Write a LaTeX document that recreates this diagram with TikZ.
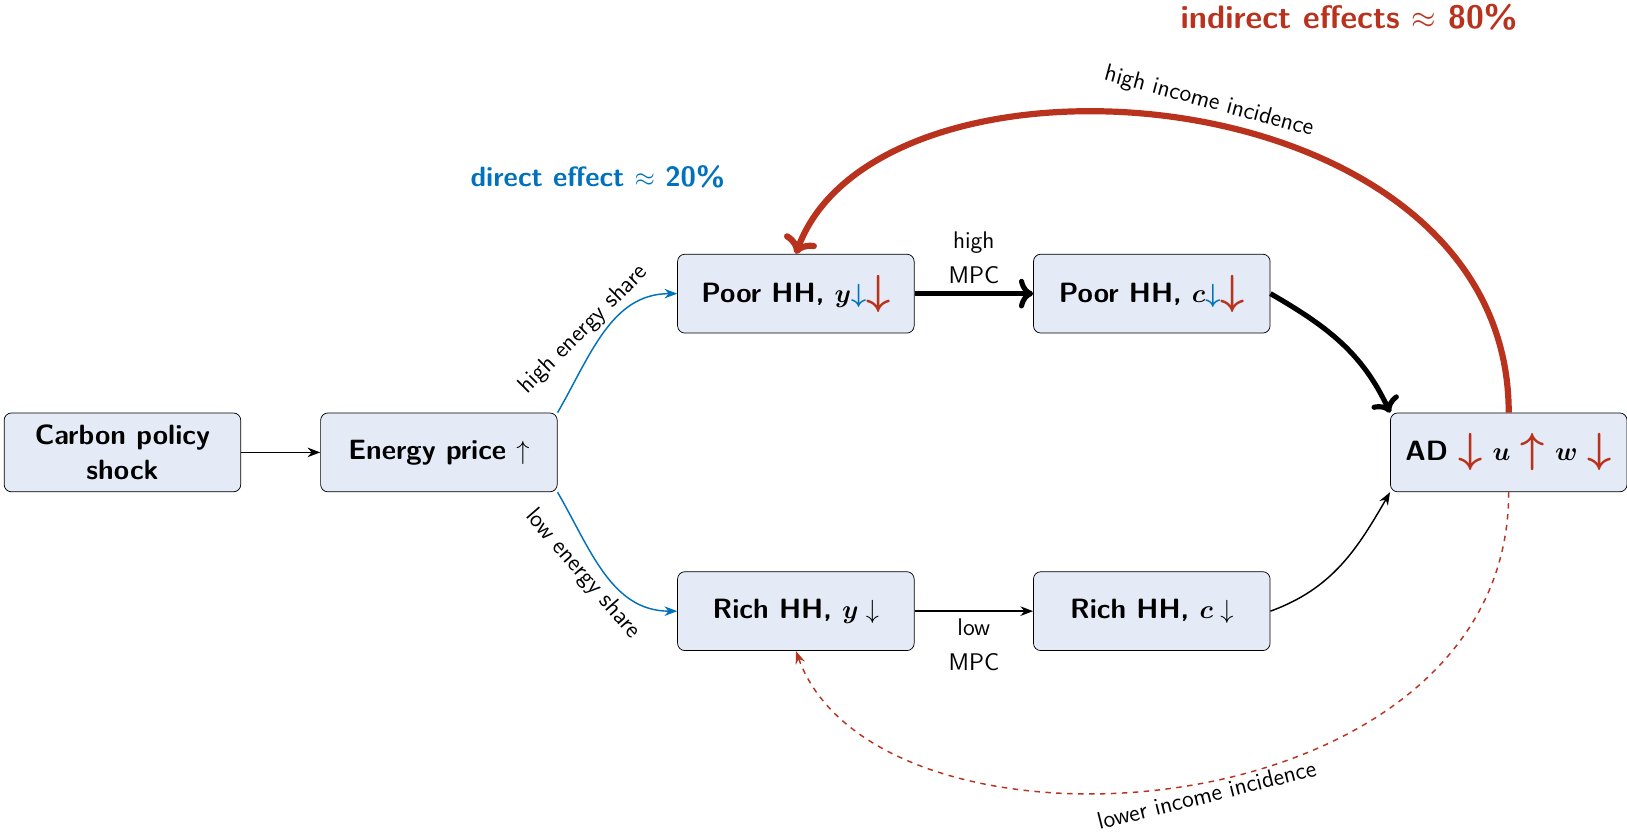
\documentclass[tikz,border=0pt]{standalone}
\usepackage{amsmath}
\usepackage{amssymb}
\usepackage{bm}
\usepackage{graphicx}
\usetikzlibrary{arrows.meta}
\definecolor{effblue}{RGB}{0,114,189}
\definecolor{effred}{RGB}{185,50,30}
\definecolor{boxfill}{RGB}{229,235,246}
\newcommand{\rdown}{\textcolor{effred}{\raisebox{-0.15ex}{\scalebox{1.6}{$\boldsymbol{\downarrow}$}}}}
\newcommand{\rup}{\textcolor{effred}{\raisebox{-0.15ex}{\scalebox{1.6}{$\boldsymbol{\uparrow}$}}}}
\newcommand{\bdown}{\textcolor{effblue}{\boldsymbol{\downarrow}}}

\begin{document}
\begin{tikzpicture}
		\tikzstyle{hhbox}=[draw, rounded corners=4pt, fill=boxfill, minimum width=4.56cm, minimum height=1.52cm, align=center, font=\fontsize{15.3}{19}\selectfont\sffamily\bfseries, inner sep=6pt]
		\tikzstyle{lbl}=[font=\fontsize{13.2}{16}\selectfont\sffamily, inner sep=4pt, text=black]
		\useasboundingbox (0,0) rectangle (31.36,16.06);

		\node[hhbox] (shock) at (2.36, 7.34) {Carbon policy\\shock};
		\node[hhbox] (price) at (8.46, 7.34) {Energy price $\uparrow$};
		\node[hhbox] (poory) at (15.34, 10.40) {Poor HH, $\bm{y}\bdown$\rdown};
		\node[hhbox] (poorc) at (22.20, 10.40) {Poor HH, $\bm{c}\bdown$\rdown};
		\node[hhbox] (richy) at (15.34, 4.28) {Rich HH, $\bm{y}\downarrow$};
		\node[hhbox] (richc) at (22.20, 4.28) {Rich HH, $\bm{c}\downarrow$};
		\node[hhbox] (ad) at (29.08, 7.34) {AD \rdown\ $\bm{u}$ \rup\ $\bm{w}$ \rdown};

		\node[font=\fontsize{15.3}{19}\selectfont\sffamily\bfseries, text=effblue] (direct) at (11.52, 12.66) {direct effect $\approx$ 20\%};
		\node[font=\fontsize{17.8}{22}\selectfont\sffamily\bfseries, text=effred] (indirect) at (26.0, 15.72) {indirect effects $\approx$ 80\%};

		\draw[-{Stealth[length=7pt]}, thick] (shock) to (price);
		\draw[-{Stealth[length=7pt]}, thick, effblue] (price.north east) to[out=60, in=180] node[lbl, pos=0.42, rotate=45, anchor=south] {high energy share} (poory.west);
		\draw[-{Stealth[length=7pt]}, thick, effblue] (price.south east) to[out=-60, in=180] node[lbl, pos=0.42, rotate=-49, anchor=north] {low energy share} (richy.west);
		\draw[->, line width=2.8pt] (poory) to node[lbl, above, align=center] {high\\[3pt]MPC} (poorc);
		\draw[-{Stealth[length=7pt]}, thick] (richy) to node[lbl, below, align=center] {low\\[3pt]MPC} (richc);
		\draw[->, line width=2.8pt] (poorc.east) to[out=-30, in=115] (ad.north west);
		\draw[-{Stealth[length=7pt]}, thick] (richc.east) to[out=20, in=-120] (ad.south west);
		\draw[->, line width=3.4pt, effred] (ad.north) .. controls +(0,6.6) and +(1.6,4.4) .. (poory.north) node[lbl, pos=0.48, rotate=-15, anchor=south] {high income incidence};
		\draw[-{Stealth[length=7pt]}, thick, dashed, effred] (ad.south) .. controls +(0,-6.6) and +(1.6,-4.4) .. (richy.south) node[lbl, pos=0.48, rotate=14, anchor=north, inner sep=2pt] {lower income incidence};
\end{tikzpicture}
\end{document}
